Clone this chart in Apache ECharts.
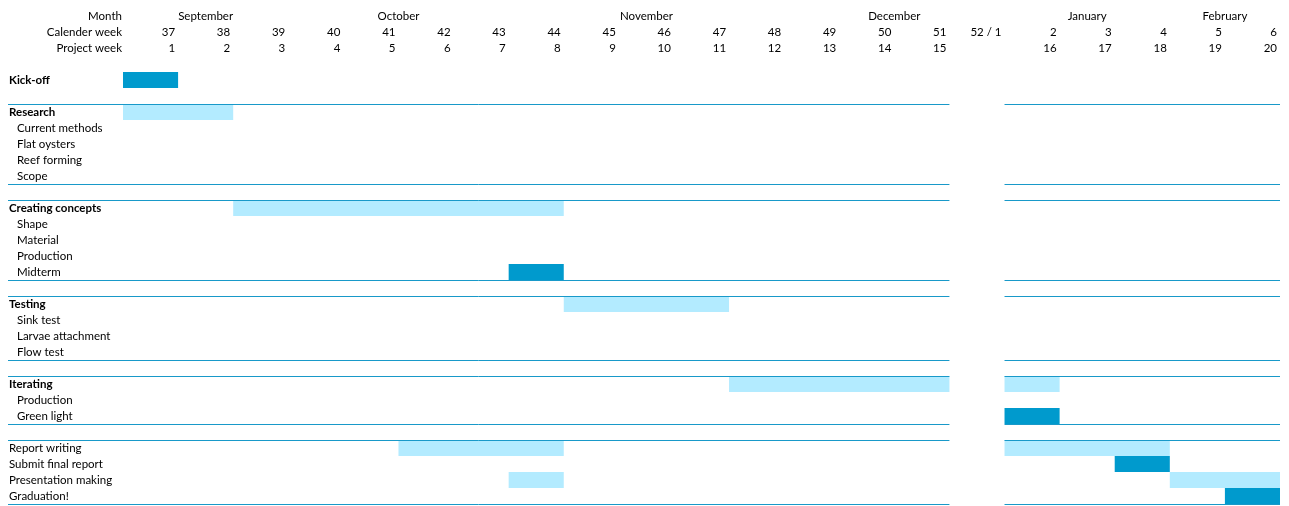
<!DOCTYPE html>
<html>
<head>
<meta charset="utf-8">
<script src="https://cdn.jsdelivr.net/npm/echarts@6/dist/echarts.min.js"></script>
<style>
html,body{margin:0;padding:0;background:#fff;}
#chart{width:1289px;height:506px;}
</style>
</head>
<body>
<div id="chart"></div>
<script>
// ---- data ----
const calendarWeeks = ['37','38','39','40','41','42','43','44','45','46','47','48','49','50','51','52 / 1','2','3','4','5','6'];
const projectWeeks  = ['1','2','3','4','5','6','7','8','9','10','11','12','13','14','15','','16','17','18','19','20'];
const monthNames = ['September','October','November','December','January','February'];
const monthFirstCol = [1, 4, 9, 13, 17, 19];   // merged header cells (column index range)
const monthLastCol  = [1, 5, 9, 14, 17, 20];

const rowLabels = ['', 'Kick-off', '', 'Research', 'Current methods', 'Flat oysters', 'Reef forming', 'Scope', '',
  'Creating concepts', 'Shape', 'Material', 'Production', 'Midterm', '',
  'Testing', 'Sink test', 'Larvae attachment', 'Flow test', '',
  'Iterating', 'Production', 'Green light', '',
  'Report writing', 'Submit final report', 'Presentation making', 'Graduation!'];
const rowLevel = ['', 'group', '', 'group', 'sub', 'sub', 'sub', 'sub', '',
  'group', 'sub', 'sub', 'sub', 'sub', '',
  'group', 'sub', 'sub', 'sub', '',
  'group', 'sub', 'sub', '',
  'plain', 'plain', 'plain', 'plain'];

// bordered blocks: first and last row index
const blockFirst = [3, 9, 15, 20, 24];
const blockLast  = [7, 13, 18, 22, 27];

// bars: row index, start project week, end project week, kind
const barRow   = [1, 3, 9, 13, 15, 20, 20, 22, 24, 24, 25, 26, 26, 27];
const barStart = [1, 1, 3, 8, 9, 12, 16, 16, 6, 16, 18, 8, 19, 20];
const barEnd   = [1, 2, 8, 8, 11, 15, 16, 16, 8, 18, 18, 8, 20, 20];
const barKind  = ['key','phase','phase','key','phase','phase','phase','key','phase','phase','key','phase','phase','key'];

// ---- styles ----
const FONT = 'Lato';
const FS = 11.5;
const DARK = '#009ACD';
const LIGHT = '#B3EBFF';
const RULE = '#1899C9';
const LABEL_COL_W = 115;

const nCols = calendarWeeks.length;
const colOf = pw => projectWeeks.indexOf(String(pw));
const holidayCols = projectWeeks.map((p, i) => p === '' ? i : -1).filter(i => i >= 0);

const barData = barRow.map((r, i) => [r, colOf(barStart[i]), colOf(barEnd[i]), barKind[i]]);
const blockData = blockFirst.map((f, i) => [f, blockLast[i]]);

const monthCenters = monthNames.map((m, i) => (monthFirstCol[i] + monthLastCol[i] + 1) / 2);

function headerAxis(name, offset, interval, formatter, align, pad) {
  return {
    type: 'value', position: 'top', offset: offset, min: 0, max: nCols, interval: interval,
    name: name, nameLocation: 'start', nameGap: 1,
    nameTextStyle: { fontFamily: FONT, fontSize: FS, color: '#000', align: 'right', verticalAlign: 'middle' },
    axisLine: { show: false }, axisTick: { show: false }, splitLine: { show: false },
    axisLabel: {
      show: true, margin: 0, verticalAlign: 'middle', align: align, padding: pad,
      fontFamily: FONT, fontSize: FS, color: '#000',
      showMinLabel: true, showMaxLabel: true, hideOverlap: false,
      formatter: formatter
    }
  };
}

const option = {
  animation: false,
  backgroundColor: '#fff',
  grid: { left: 123, right: 9, top: 56, bottom: 2, containLabel: false },
  xAxis: [
    { type: 'value', min: 0, max: nCols, show: false },
    headerAxis('Project week', 8, 1, v => (v >= 1 ? projectWeeks[Math.round(v) - 1] : ''), 'right', [0, 3, 0, 0]),
    headerAxis('Calender week', 24, 1, v => (v >= 1 ? calendarWeeks[Math.round(v) - 1] : ''), 'right', [0, 3, 0, 0]),
    headerAxis('Month', 40, 0.5, v => {
      const k = monthCenters.findIndex(c => Math.abs(c - v) < 1e-6);
      return k >= 0 ? monthNames[k] : '';
    }, 'center', 0)
  ],
  yAxis: {
    type: 'category', inverse: true, data: rowLabels,
    axisLine: { show: false }, axisTick: { show: false }, splitLine: { show: false },
    axisLabel: {
      interval: 0, align: 'left', margin: 114,
      fontFamily: FONT, fontSize: FS, color: '#000',
      formatter: (val, idx) => {
        if (!val) return '';
        const lv = rowLevel[idx];
        if (lv === 'group') return '{b|' + val + '}';
        if (lv === 'sub') return '{s|' + val + '}';
        return '{p|' + val + '}';
      },
      rich: {
        b: { fontFamily: FONT, fontSize: FS, fontWeight: 'bold', color: '#000' },
        s: { fontFamily: FONT, fontSize: FS, color: '#000', padding: [0, 0, 0, 8] },
        p: { fontFamily: FONT, fontSize: FS, color: '#000' }
      }
    }
  },
  series: [
    {
      type: 'custom', name: 'bars', xAxisIndex: 0,
      encode: { x: [1, 2], y: 0 },
      data: barData,
      renderItem: (params, api) => {
        const row = api.value(0);
        const p0 = api.coord([api.value(1), row]);
        const p1 = api.coord([api.value(2) + 1, row]);
        const h = api.size([0, 1])[1];
        const kind = barData[params.dataIndex][3];
        return {
          type: 'rect',
          shape: { x: p0[0], y: p0[1] - h / 2, width: p1[0] - p0[0], height: h },
          style: { fill: kind === 'key' ? DARK : LIGHT }
        };
      },
      z: 2
    },
    {
      type: 'custom', name: 'rules', xAxisIndex: 0,
      encode: { y: 0 },
      data: blockData,
      clip: false,
      renderItem: (params, api) => {
        const h = api.size([0, 1])[1];
        const yTop = api.coord([0, api.value(0)])[1] - h / 2 + 0.5;
        const yBot = api.coord([0, api.value(1)])[1] + h / 2 + 0.5;
        const xs = [params.coordSys.x - LABEL_COL_W];
        const segs = [];
        let start = xs[0];
        holidayCols.forEach(c => {
          segs.push([start, api.coord([c, 0])[0]]);
          start = api.coord([c + 1, 0])[0];
        });
        segs.push([start, api.coord([nCols, 0])[0]]);
        const children = [];
        [yTop, yBot].forEach(y => {
          segs.forEach(s => {
            children.push({
              type: 'line',
              shape: { x1: s[0], y1: y, x2: s[1], y2: y },
              style: { stroke: RULE, lineWidth: 1 }
            });
          });
        });
        return { type: 'group', children: children };
      },
      z: 3
    }
  ]
};

const chart = echarts.init(document.getElementById('chart'), null, { renderer: 'canvas' });
chart.setOption(option);
</script>
</body>
</html>
